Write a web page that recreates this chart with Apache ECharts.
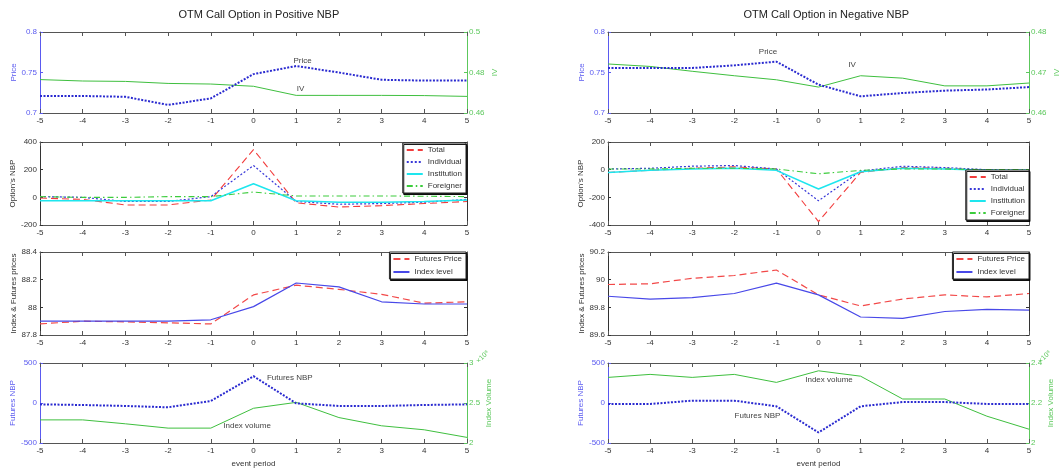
<!DOCTYPE html>
<html>
<head>
<meta charset="utf-8">
<script src="https://cdn.jsdelivr.net/npm/echarts@6/dist/echarts.min.js"></script>
<style>
  html, body { margin: 0; padding: 0; background: #fff; }
  #chart { width: 1064px; height: 475px; }
</style>
</head>
<body>
<div id="chart"></div>
<script>
// Event window (days around the event)
const periods = [-5, -4, -3, -2, -1, 0, 1, 2, 3, 4, 5];
const titles = ['OTM Call Option in Positive NBP', 'OTM Call Option in Negative NBP'];

// Row 1: option price and implied volatility
const posPrice = [0.721, 0.721, 0.720, 0.710, 0.718, 0.748, 0.758, 0.750, 0.741, 0.740, 0.740];
const posIV    = [0.4765, 0.4758, 0.4756, 0.4746, 0.4743, 0.4732, 0.4687, 0.4687, 0.4687, 0.4686, 0.4682];
const negPrice = [0.7556, 0.7556, 0.7556, 0.7588, 0.7634, 0.735, 0.7206, 0.7247, 0.7276, 0.729, 0.732];
const negIV    = [0.4721, 0.4715, 0.4703, 0.4692, 0.4682, 0.4664, 0.4692, 0.4686, 0.4667, 0.4667, 0.4674];

// Row 2: option net buying pressure by investor type
const posTotal       = [-5, -15, -55, -55, -20, 345, -40, -70, -60, -45, -30];
const posIndividual  = [5, 0, -30, -30, 5, 230, -30, -50, -45, -35, -15];
const posInstitution = [-25, -25, -25, -25, -25, 98, -25, -35, -35, -30, -20];
const posForeigner   = [5, 0, 0, 5, 5, 38, 10, 10, 10, 8, 5];
const negTotal       = [-20, -5, 10, 20, 5, -375, -20, 15, 10, -5, -10];
const negIndividual  = [5, 10, 25, 30, 5, -225, -10, 25, 15, 0, -5];
const negInstitution = [-20, -5, 5, 10, -5, -140, -15, 10, 5, -5, -5];
const negForeigner   = [5, 5, 10, 10, 5, -30, -5, 5, 5, 0, 0];

// Row 3: futures price and index level
const posFutures = [87.88, 87.90, 87.895, 87.888, 87.88, 88.09, 88.16, 88.13, 88.094, 88.03, 88.04];
const posIndex   = [87.90, 87.90, 87.90, 87.90, 87.91, 88.005, 88.176, 88.148, 88.04, 88.024, 88.024];
const negFutures = [89.965, 89.97, 90.01, 90.03, 90.07, 89.89, 89.81, 89.86, 89.89, 89.875, 89.90];
const negIndex   = [89.88, 89.86, 89.87, 89.90, 89.975, 89.89, 89.73, 89.72, 89.77, 89.785, 89.78];

// Row 4: futures net buying pressure and index volume (x10^8)
const posFutNBP = [-17, -25, -37, -54, 25, 335, -4, -37, -37, -25, -17];
const posVolume = [2.289, 2.289, 2.24, 2.186, 2.186, 2.434, 2.508, 2.318, 2.215, 2.165, 2.07];
const negFutNBP = [-12, -12, 29, 29, -41, -369, -41, 12, 12, -12, -12];
const negVolume = [2.328, 2.343, 2.328, 2.343, 2.303, 2.361, 2.334, 2.22, 2.22, 2.134, 2.069];

const pairs = ys => periods.map((x, i) => [x, ys[i]]);

const FONT = 'Liberation Sans';
const BLUE = '#2a2ad0';
const BLUE_AX = '#5a5af0';
const GREEN = '#3fbf3f';
const GREEN_AX = '#5cc85c';
const FRAME = '#555';

const colLeft = [40, 608];
const colWidth = [427, 421];
const rowTop = [32, 142, 252, 363];
const rowHeight = [81, 83, 83, 80];

const grid = [], xAxis = [], yAxis = [], series = [], legend = [], graphic = [];

function addPanel(c, r, left, right) {
  const g = grid.length;
  grid.push({ left: colLeft[c], top: rowTop[r], width: colWidth[c], height: rowHeight[r], containLabel: false });
  const xCommon = { type: 'value', gridIndex: g, min: -5, max: 5, interval: 1, splitLine: { show: false },
    axisTick: { inside: true, length: 4, lineStyle: { color: FRAME } } };
  xAxis.push(Object.assign({}, xCommon, {
    position: 'bottom',
    axisLine: { onZero: false, lineStyle: { color: FRAME, width: 1.2 } },
    axisLabel: { color: '#333', fontSize: 8, fontFamily: FONT, margin: 4 },
    name: r === 3 ? 'event period' : '', nameLocation: 'middle', nameGap: 17,
    nameTextStyle: { color: '#333', fontSize: 8, fontFamily: FONT }
  }));
  xAxis.push(Object.assign({}, xCommon, {
    position: 'top',
    axisLine: { onZero: false, lineStyle: { color: FRAME, width: 1.2 } },
    axisLabel: { show: false }
  }));
  const yBase = { type: 'value', gridIndex: g, splitLine: { show: false }, nameLocation: 'middle', nameRotate: 90 };
  yAxis.push(Object.assign({}, yBase, {
    position: 'left', min: left.min, max: left.max, interval: left.interval,
    name: left.name, nameGap: left.gap || 24,
    nameTextStyle: { color: left.color, fontSize: 8, fontFamily: FONT },
    axisLine: { show: true, onZero: false, lineStyle: { color: left.color } },
    axisTick: { show: true, inside: true, length: 3, lineStyle: { color: left.color } },
    axisLabel: { color: left.color, fontSize: 8, fontFamily: FONT, margin: 3 }
  }));
  yAxis.push(Object.assign({}, yBase, {
    position: 'right', min: right.min, max: right.max, interval: right.interval,
    name: right.name || '', nameGap: right.gap || 24,
    nameTextStyle: { color: right.color, fontSize: 8, fontFamily: FONT },
    axisLine: { show: true, onZero: false, lineStyle: { color: right.color } },
    axisTick: { show: true, inside: true, length: 3, lineStyle: { color: right.color } },
    axisLabel: { show: !!right.labels, color: right.color, fontSize: 8, fontFamily: FONT, margin: 2 }
  }));
  return g;
}

function line(g, useRight, name, ys, color, type, width) {
  series.push({
    type: 'line', name, xAxisIndex: 2 * g, yAxisIndex: 2 * g + (useRight ? 1 : 0),
    data: pairs(ys), showSymbol: false, symbol: 'none', silent: true, animation: false,
    lineStyle: { color, type, width }, itemStyle: { color }
  });
}

function note(text, x, y) {
  return { coord: [x, y], symbol: 'circle', symbolSize: 0,
    label: { show: true, formatter: text, color: '#444', fontSize: 8, fontFamily: FONT, position: 'inside' } };
}

// Boxed legend, line samples only
function boxLegend(names, pos, gap) {
  return Object.assign({
    orient: 'vertical', data: names,
    itemWidth: 16, itemHeight: 6, itemGap: gap, padding: [3, 4, 3, 3],
    backgroundColor: '#fff', borderColor: '#222', borderWidth: 1,
    shadowColor: 'rgba(0,0,0,0.9)', shadowOffsetX: 1, shadowOffsetY: 1.5,
    itemStyle: { opacity: 0 },
    textStyle: { fontSize: 8, fontFamily: FONT, color: '#333' },
    selectedMode: false
  }, pos);
}

const sets = [
  { price: posPrice, iv: posIV, ivAxis: [0.46, 0.5, 0.02],
    total: posTotal, ind: posIndividual, inst: posInstitution, fgn: posForeigner, nbpAxis: [-200, 400, 200],
    fut: posFutures, idx: posIndex, pxAxis: [87.8, 88.4, 0.2],
    fnbp: posFutNBP, vol: posVolume, volAxis: [2, 3, 0.5],
    priceNote: [1.15, 0.765], ivNote: [1.1, 0.4718],
    fnbpNote: [0.85, 320], volNote: [-0.15, -285],
    legend2: { right: 1064 - 466, top: 143 }, legend3: { right: 1064 - 466, top: 252 } },
  { price: negPrice, iv: negIV, ivAxis: [0.46, 0.48, 0.01],
    total: negTotal, ind: negIndividual, inst: negInstitution, fgn: negForeigner, nbpAxis: [-400, 200, 200],
    fut: negFutures, idx: negIndex, pxAxis: [89.6, 90.2, 0.2],
    fnbp: negFutNBP, vol: negVolume, volAxis: [2, 2.4, 0.2],
    priceNote: [-1.2, 0.776], ivNote: [0.8, 0.4718],
    fnbpNote: [-1.45, -160], volNote: [0.25, 290],
    legend2: { right: 1064 - 1029, top: 170 }, legend3: { right: 1064 - 1029, top: 252 } }
];

sets.forEach((s, c) => {
  // Row 1: price (left) and IV (right)
  let g = addPanel(c, 0,
    { min: 0.7, max: 0.8, interval: 0.05, name: 'Price', color: BLUE_AX, gap: 22 },
    { min: s.ivAxis[0], max: s.ivAxis[1], interval: s.ivAxis[2], name: 'IV', color: GREEN_AX, labels: true, gap: 24 });
  line(g, true, 'IV', s.iv, GREEN, 'solid', 1);
  line(g, false, 'Price', s.price, BLUE, [2, 1.5], 2);
  series.push({ type: 'line', xAxisIndex: 2 * g, yAxisIndex: 2 * g, data: [], silent: true,
    markPoint: { silent: true, data: [note('Price', s.priceNote[0], s.priceNote[1])] } });
  series.push({ type: 'line', xAxisIndex: 2 * g, yAxisIndex: 2 * g + 1, data: [], silent: true,
    markPoint: { silent: true, data: [note('IV', s.ivNote[0], s.ivNote[1])] } });

  // Row 2: option NBP by investor type
  g = addPanel(c, 1,
    { min: s.nbpAxis[0], max: s.nbpAxis[1], interval: s.nbpAxis[2], name: "Option's NBP", color: '#333', gap: 22 },
    { min: s.nbpAxis[0], max: s.nbpAxis[1], interval: s.nbpAxis[2], color: '#333' });
  line(g, false, 'Total', s.total, '#f23c3c', [7, 4], 1.1);
  line(g, false, 'Individual', s.ind, '#3838d8', [2, 2], 1.2);
  line(g, false, 'Institution', s.inst, '#1ee6ee', 'solid', 1.5);
  line(g, false, 'Foreigner', s.fgn, '#3ccc3c', [6, 3, 1.5, 3], 1.1);
  legend.push(boxLegend(['Total', 'Individual', 'Institution', 'Foreigner'], s.legend2, 4));

  // Row 3: futures price and index level
  g = addPanel(c, 2,
    { min: s.pxAxis[0], max: s.pxAxis[1], interval: s.pxAxis[2], name: 'Index & Futures prices', color: '#333', gap: 22 },
    { min: s.pxAxis[0], max: s.pxAxis[1], interval: s.pxAxis[2], color: '#333' });
  line(g, false, 'Futures Price', s.fut, '#f24848', [7, 4], 1.2);
  line(g, false, 'Index level', s.idx, '#4848e8', 'solid', 1.2);
  legend.push(boxLegend(['Futures Price', 'Index level'], s.legend3, 5));

  // Row 4: futures NBP (left) and index volume (right)
  g = addPanel(c, 3,
    { min: -500, max: 500, interval: 500, name: 'Futures NBP', color: BLUE_AX, gap: 22 },
    { min: s.volAxis[0], max: s.volAxis[1], interval: s.volAxis[2], name: 'Index Volume', color: GREEN_AX, labels: true, gap: 18 });
  line(g, true, 'Index volume', s.vol, GREEN, 'solid', 1);
  line(g, false, 'Futures NBP', s.fnbp, BLUE, [2, 1.5], 2);
  series.push({ type: 'line', xAxisIndex: 2 * g, yAxisIndex: 2 * g, data: [], silent: true,
    markPoint: { silent: true, data: [note('Futures NBP', s.fnbpNote[0], s.fnbpNote[1]),
                                      note('Index volume', s.volNote[0], s.volNote[1])] } });

  // Column title
  graphic.push({ type: 'text', left: colLeft[c] + colWidth[c] / 2 - 75, top: 9,
    style: { text: titles[c], fontSize: 11, fontFamily: FONT, fill: '#222' } });
  // Exponent of the index volume axis
  graphic.push({ type: 'text', left: colLeft[c] + colWidth[c] + 8, top: rowTop[3] - 14, rotation: Math.PI / 4,
    style: { text: '×10⁸', fontSize: 7, fontFamily: FONT, fill: GREEN_AX } });
});

const chart = echarts.init(document.getElementById('chart'), null, { renderer: 'canvas' });
chart.setOption({
  backgroundColor: '#fff',
  animation: false,
  textStyle: { fontFamily: FONT },
  grid, xAxis, yAxis, series, legend, graphic
});
</script>
</body>
</html>
